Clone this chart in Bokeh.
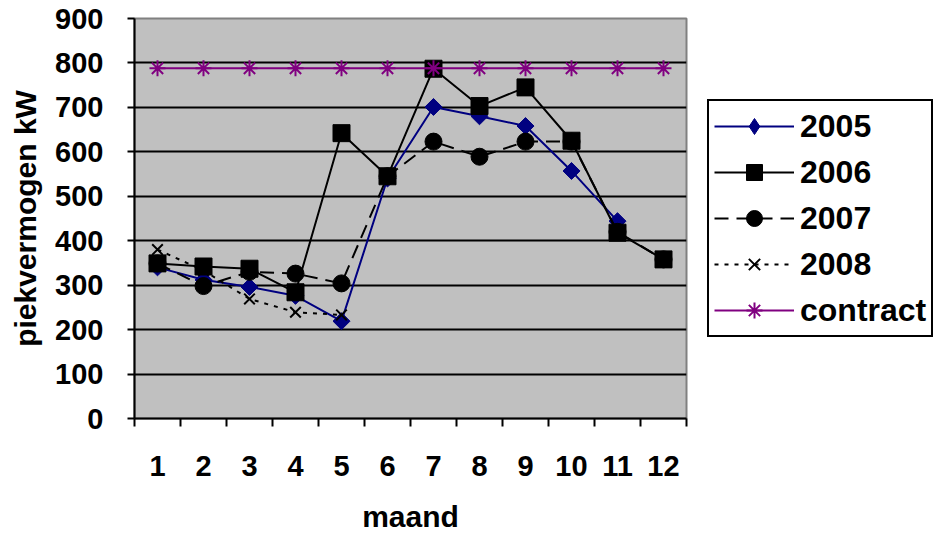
import math
from bokeh.plotting import figure
from bokeh.layouts import row
from bokeh.models import (Range1d, FixedTicker, Legend, LegendItem, ColumnDataSource)
from bokeh.embed import file_html
from bokeh.resources import INLINE

nan = float("nan")

months = [1, 2, 3, 4, 5, 6, 7, 8, 9, 10, 11, 12]
month_labels = ["1", "2", "3", "4", "5", "6", "7", "8", "9", "10", "11", "12"]
y_ticks = [0, 100, 200, 300, 400, 500, 600, 700, 800, 900]

s2005 = [340, 312, 296, 276, 219, 540, 701, 680, 658, 557, 444, nan]
s2006 = [349, 342, 337, 284, 642, 545, 787, 703, 745, 625, 418, 358]
s2007 = [349, 298, 330, 326, 304, 545, 623, 589, 623, 623, 420, 358]
s2008 = [380, 333, 269, 239, 233, nan, nan, nan, nan, nan, nan, nan]
contract = [788] * 12

# name, values, colour, dash, marker (plot), size, angle, marker (legend), legend size
series = [
    ("2005", s2005, "#000080", "solid", "square", 12, math.pi / 4, "diamond", 19),
    ("2006", s2006, "#000000", "solid", "square", 17, 0.0, "square", 17),
    ("2007", s2007, "#000000", "14 8", "circle", 17, 0.0, "circle", 17),
    ("2008", s2008, "#000000", "4 6", "x", 15, 0.0, "x", 15),
    ("contract", contract, "#800080", "solid", "asterisk", 16, 0.0, "asterisk", 16),
]

FONT = "Liberation Sans"

p = figure(width=688, height=535, output_backend="svg", toolbar_location=None,
           x_range=Range1d(0.5, 12.5), y_range=Range1d(0, 900),
           min_border_left=134, min_border_right=2, min_border_top=18,
           min_border_bottom=115)

p.border_fill_color = "#ffffff"
p.background_fill_color = "#c0c0c0"
p.outline_line_color = "#808080"
p.outline_line_width = 2

# grid
p.xgrid.grid_line_color = None
p.ygrid.ticker = FixedTicker(ticks=y_ticks)
p.ygrid.grid_line_color = "#000000"
p.ygrid.grid_line_width = 2

# y axis
ya = p.yaxis[0]
ya.ticker = FixedTicker(ticks=y_ticks)
ya.axis_line_color = "#000000"
ya.axis_line_width = 2
ya.major_tick_line_width = 2
ya.major_tick_out = 7
ya.major_tick_in = 0
ya.minor_tick_line_color = None
ya.major_label_text_font = FONT
ya.major_label_text_font_style = "bold"
ya.major_label_text_font_size = "29px"
ya.major_label_text_color = "#000000"
ya.major_label_standoff = 24
ya.axis_label = "piekvermogen kW"
ya.axis_label_text_font = FONT
ya.axis_label_text_font_style = "bold"
ya.axis_label_text_font_size = "30px"
ya.axis_label_text_color = "#000000"
ya.axis_label_standoff = 10

# x axis: labels at month centres, tick marks on the boundaries (minor ticks)
xa = p.xaxis[0]
boundaries = [m - 0.5 for m in months] + [months[-1] + 0.5]
xa.ticker = FixedTicker(ticks=months, minor_ticks=boundaries)
xa.major_label_overrides = {m: lab for m, lab in zip(months, month_labels)}
xa.axis_line_color = "#000000"
xa.axis_line_width = 2
xa.major_tick_line_color = None
xa.major_tick_out = 0
xa.major_tick_in = 0
xa.minor_tick_line_color = "#000000"
xa.minor_tick_line_width = 2
xa.minor_tick_out = 8
xa.minor_tick_in = 0
xa.major_label_text_font = FONT
xa.major_label_text_font_style = "bold"
xa.major_label_text_font_size = "29px"
xa.major_label_text_color = "#000000"
xa.major_label_standoff = 29
xa.axis_label = "maand"
xa.axis_label_text_font = FONT
xa.axis_label_text_font_style = "bold"
xa.axis_label_text_font_size = "30px"
xa.axis_label_text_color = "#000000"
xa.axis_label_standoff = 21

# legend panel: a second figure beside the plot; its data lie outside its
# ranges so only the legend is visible
q = figure(width=247, height=535, output_backend="svg", toolbar_location=None,
           x_range=Range1d(100, 101), y_range=Range1d(5000, 5001),
           min_border_left=0, min_border_right=0, min_border_top=0,
           min_border_bottom=93, x_axis_location=None, y_axis_location=None)
q.xgrid.grid_line_color = None
q.ygrid.grid_line_color = None
q.outline_line_color = None
q.background_fill_color = "#ffffff"
q.border_fill_color = "#ffffff"


def add_series(fig, xs, vals, color, dash, marker, size, angle):
    src = ColumnDataSource(dict(x=xs, y=vals))
    lr = fig.line("x", "y", source=src, line_color=color, line_width=2, line_dash=dash)
    if marker in ("x", "asterisk"):
        sr = fig.scatter("x", "y", source=src, marker=marker, size=size,
                         line_color=color, line_width=2, fill_color=None)
    else:
        sr = fig.scatter("x", "y", source=src, marker=marker, size=size, angle=angle,
                         line_color=color, fill_color=color, line_width=1)
    return lr, sr


items = []
for name, vals, color, dash, marker, size, angle, lmarker, lsize in series:
    add_series(p, months, vals, color, dash, marker, size, angle)
    lr, sr = add_series(q, months, vals, color, dash, lmarker, lsize, 0.0)
    items.append(LegendItem(label=name, renderers=[lr, sr]))

legend = Legend(items=items, location="center_left")
legend.border_line_color = "#000000"
legend.border_line_width = 2
legend.border_line_alpha = 1
legend.background_fill_color = "#ffffff"
legend.background_fill_alpha = 1
legend.label_text_font = FONT
legend.label_text_font_style = "bold"
legend.label_text_font_size = "32px"
legend.label_text_color = "#000000"
legend.glyph_width = 80
legend.glyph_height = 40
legend.label_height = 40
legend.label_standoff = 6
legend.spacing = 6
legend.padding = 5
legend.margin = 19
q.add_layout(legend, "center")

layout = row(p, q)
open("out.html", "w").write(file_html(layout, INLINE))
